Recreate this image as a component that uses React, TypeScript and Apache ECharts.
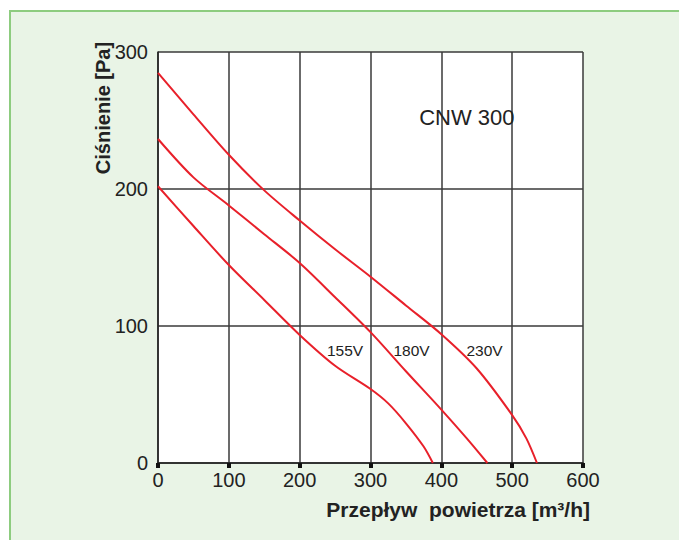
import React, { useEffect, useRef } from "react";
import * as echarts from "echarts";

const xTicks = [0, 100, 200, 300, 400, 500, 600];
const yTicks = [0, 100, 200, 300];

const x155 = [0, 50, 100, 150, 200, 250, 300, 325, 350, 375, 388];
const y155 = [202, 173, 144.5, 119, 93.5, 71, 54, 43.5, 29, 12, 0];

const x180 = [0, 50, 100, 150, 200, 250, 300, 350, 400, 435, 465];
const y180 = [236.5, 208.5, 188, 167, 146, 121, 95.5, 67, 39, 18.5, 0];

const x230 = [0, 50, 100, 150, 200, 250, 300, 350, 400, 450, 500, 520, 535];
const y230 = [284.7, 254.5, 225, 199, 177, 156, 136, 115, 94, 69, 35, 18, 0];

const seriesNames = ["155V", "180V", "230V"];
const labelCoords = [
  [264, 82],
  [358, 82],
  [461, 82],
];
const modelName = "CNW 300";
const modelCoord = [436, 252];
const xName = "Przepływ  powietrza [m³/h]";
const yName = "Ciśnienie [Pa]";

const FONT = "'Liberation Sans', Arial, sans-serif";
const RED = "#e8202a";

export default function App() {
  const ref = useRef<HTMLDivElement>(null);

  useEffect(() => {
    if (!ref.current) return;
    const chart = echarts.init(ref.current, undefined, { renderer: "svg" });
    const xs = [x155, x180, x230];
    const ys = [y155, y180, y230];

    const series: any[] = seriesNames.map((name, i) => ({
      name,
      type: "line",
      smooth: 0.3,
      symbol: "none",
      lineStyle: { color: RED, width: 2 },
      data: xs[i].map((x, j) => [x, ys[i][j]]),
      markPoint: {
        symbol: "circle",
        symbolSize: 0,
        silent: true,
        data: [
          {
            coord: labelCoords[i],
            label: {
              show: true,
              position: "inside",
              formatter: name,
              color: "#222",
              fontSize: 15.5,
              fontFamily: FONT,
            },
          },
          ...(i === 2
            ? [
                {
                  coord: modelCoord,
                  label: {
                    show: true,
                    position: "inside",
                    formatter: modelName,
                    color: "#222",
                    fontSize: 22,
                    fontFamily: FONT,
                  },
                },
              ]
            : []),
        ],
      },
    }));

    chart.setOption({
      animation: false,
      backgroundColor: "transparent",
      grid: {
        left: 158,
        right: 96,
        top: 52,
        bottom: 77,
        show: true,
        backgroundColor: "#ffffff",
        borderWidth: 0,
      },
      xAxis: {
        type: "value",
        min: xTicks[0],
        max: xTicks[xTicks.length - 1],
        interval: 100,
        axisLine: { show: true, lineStyle: { color: "#222", width: 1.5 } },
        axisTick: { show: true, length: 5, lineStyle: { color: "#111", width: 4 } },
        axisLabel: { color: "#222", fontSize: 20, fontFamily: FONT, margin: 7 },
        splitLine: { show: true, lineStyle: { color: "#3a3a3a", width: 1.5 } },
      },
      yAxis: {
        type: "value",
        min: yTicks[0],
        max: yTicks[yTicks.length - 1],
        interval: 100,
        axisLine: { show: true, lineStyle: { color: "#222", width: 1.5 } },
        axisTick: { show: false },
        axisLabel: { color: "#222", fontSize: 20, fontFamily: FONT, margin: 10 },
        splitLine: { show: true, lineStyle: { color: "#3a3a3a", width: 1.5 } },
      },
      graphic: [
        {
          type: "text",
          x: 103,
          y: 108,
          rotation: Math.PI / 2,
          style: {
            text: yName,
            fill: "#222",
            font: `bold 20px ${FONT}`,
            textAlign: "center",
            textVerticalAlign: "middle",
          },
        },
        {
          type: "text",
          x: 590,
          y: 509,
          style: {
            text: xName,
            fill: "#222",
            font: `bold 21px ${FONT}`,
            textAlign: "right",
            textVerticalAlign: "middle",
          },
        },
      ],
      series,
    });

    return () => chart.dispose();
  }, []);

  return (
    <div
      style={{
        position: "fixed",
        left: 0,
        top: 0,
        width: 679,
        height: 540,
        background: "#ffffff",
        overflow: "hidden",
      }}
    >
      <div
        style={{
          position: "absolute",
          left: 9,
          top: 10,
          width: 700,
          height: 560,
          background: "#e9f4e6",
          borderLeft: "2px solid #8dcc7f",
          borderTop: "2px solid #8dcc7f",
        }}
      />
      <div
        ref={ref}
        style={{ position: "absolute", left: 0, top: 0, width: 679, height: 540 }}
      />
    </div>
  );
}
